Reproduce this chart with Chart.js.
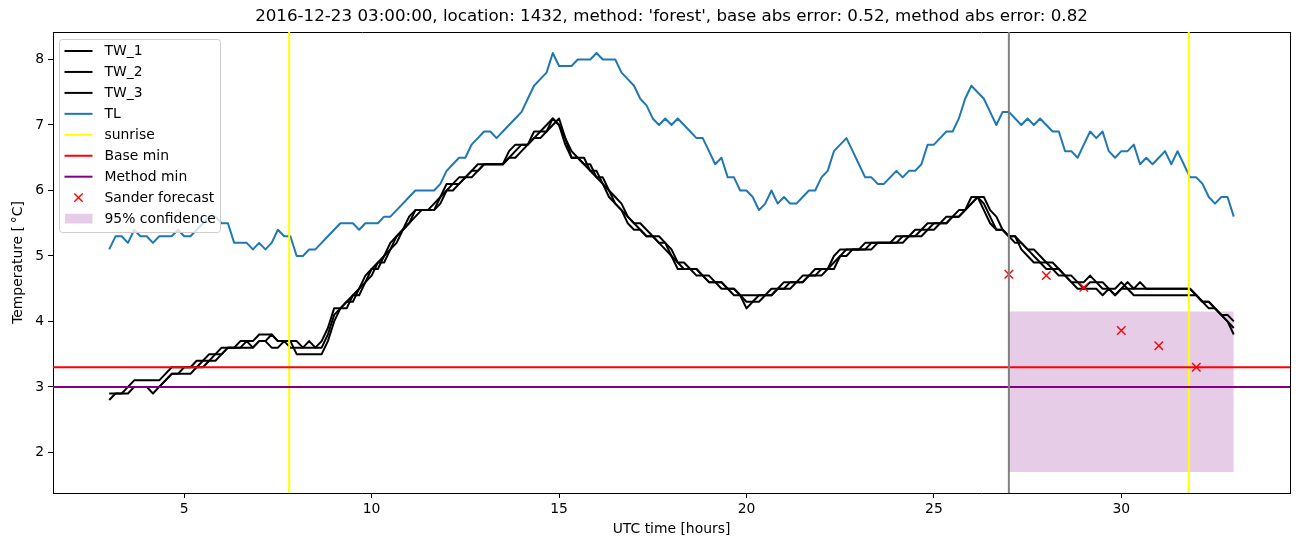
<!DOCTYPE html>
<html><head><meta charset="utf-8">
<script src="https://cdn.jsdelivr.net/npm/chart.js@4.4.1/dist/chart.umd.min.js"></script>
<style>html,body{margin:0;padding:0;background:#fff}#wrap{width:1302px;height:547px}</style>
</head><body><div id="wrap"><canvas id="c" width="1302" height="547"></canvas></div>
<script>
// ---- data (10-minute samples from 03:00 to 33:00 UTC hours) ----
const startHour = 3;
const stepHours = 1 / 6;

const tw1 = [
3.0,3.0,3.0,3.0,3.1,3.1,3.1,3.1,3.1,3.2,
3.3,3.3,3.3,3.3,3.4,3.4,3.5,3.5,3.6,3.6,
3.6,3.7,3.7,3.7,3.8,3.8,3.8,3.7,3.7,3.7,
3.7,3.6,3.7,3.6,3.7,3.9,4.2,4.2,4.3,4.4,
4.5,4.7,4.8,4.9,5.0,5.2,5.3,5.4,5.6,5.7,
5.7,5.7,5.8,5.9,6.1,6.1,6.2,6.2,6.3,6.4,
6.4,6.4,6.4,6.4,6.6,6.7,6.7,6.7,6.9,6.9,
7.0,7.1,7.0,6.7,6.5,6.5,6.4,6.3,6.2,6.1,
5.9,5.8,5.7,5.5,5.4,5.4,5.3,5.3,5.2,5.1,
5.0,4.8,4.8,4.8,4.7,4.7,4.6,4.6,4.5,4.5,
4.4,4.4,4.4,4.4,4.4,4.4,4.5,4.5,4.6,4.6,
4.6,4.7,4.7,4.8,4.8,4.8,5.0,5.1,5.1,5.1,
5.1,5.2,5.2,5.2,5.2,5.2,5.3,5.3,5.3,5.4,
5.4,5.5,5.5,5.5,5.6,5.6,5.7,5.7,5.9,5.9,
5.7,5.5,5.4,5.4,5.3,5.3,5.1,5.0,4.9,4.9,
4.8,4.8,4.8,4.7,4.6,4.6,4.6,4.7,4.6,4.6,
4.5,4.5,4.6,4.5,4.5,4.5,4.5,4.5,4.5,4.5,
4.5,4.5,4.5,4.5,4.4,4.3,4.2,4.2,4.1,4.1,4.0];

const tw2 = [
2.9,2.9,2.9,3.0,3.0,3.0,3.0,2.9,3.0,3.1,
3.2,3.2,3.2,3.2,3.3,3.3,3.4,3.4,3.5,3.6,
3.6,3.6,3.6,3.6,3.7,3.7,3.6,3.6,3.7,3.6,
3.6,3.6,3.6,3.6,3.6,3.8,4.1,4.2,4.3,4.3,
4.5,4.6,4.8,4.8,5.0,5.1,5.3,5.4,5.5,5.7,
5.7,5.7,5.7,5.9,6.0,6.1,6.1,6.2,6.3,6.3,
6.4,6.4,6.4,6.4,6.5,6.6,6.7,6.7,6.8,6.9,
6.9,7.1,7.0,6.8,6.5,6.5,6.5,6.3,6.3,6.1,
6.0,5.8,5.7,5.6,5.5,5.4,5.3,5.3,5.3,5.2,
5.0,4.9,4.8,4.8,4.8,4.7,4.7,4.6,4.6,4.5,
4.5,4.4,4.2,4.3,4.3,4.4,4.4,4.5,4.5,4.6,
4.6,4.6,4.7,4.7,4.8,4.8,4.9,5.0,5.1,5.1,
5.1,5.1,5.2,5.2,5.2,5.2,5.2,5.3,5.3,5.3,
5.4,5.4,5.5,5.5,5.5,5.6,5.6,5.7,5.8,5.9,
5.8,5.6,5.4,5.4,5.3,5.2,5.2,5.1,5.0,4.9,
4.9,4.8,4.7,4.7,4.6,4.5,4.5,4.6,4.6,4.5,
4.5,4.4,4.5,4.5,4.4,4.4,4.4,4.4,4.4,4.4,
4.4,4.4,4.4,4.4,4.4,4.3,4.3,4.2,4.1,4.0,3.9];

const tw3 = [
2.8,2.9,2.9,2.9,3.0,3.0,3.0,3.0,3.0,3.1,
3.2,3.2,3.3,3.3,3.3,3.4,3.4,3.5,3.5,3.6,
3.6,3.6,3.7,3.6,3.7,3.7,3.8,3.7,3.7,3.7,
3.5,3.5,3.5,3.5,3.5,3.7,4.0,4.2,4.2,4.4,
4.4,4.6,4.7,4.9,4.9,5.1,5.2,5.4,5.5,5.6,
5.7,5.7,5.7,5.8,6.0,6.0,6.1,6.2,6.2,6.3,
6.4,6.4,6.4,6.4,6.5,6.5,6.6,6.7,6.8,6.8,
6.9,7.0,7.1,6.8,6.6,6.5,6.4,6.4,6.2,6.2,
6.0,5.9,5.8,5.6,5.5,5.5,5.4,5.3,5.2,5.2,
5.1,4.9,4.9,4.8,4.8,4.7,4.6,4.6,4.6,4.5,
4.5,4.4,4.3,4.3,4.4,4.4,4.4,4.5,4.5,4.5,
4.6,4.6,4.7,4.7,4.7,4.8,4.8,5.0,5.0,5.1,
5.1,5.1,5.1,5.2,5.2,5.2,5.2,5.2,5.3,5.3,
5.3,5.4,5.4,5.5,5.5,5.6,5.6,5.7,5.8,5.9,
5.9,5.7,5.6,5.4,5.3,5.3,5.2,5.1,5.1,5.0,
4.9,4.9,4.8,4.7,4.7,4.6,4.5,4.5,4.5,4.4,
4.5,4.4,4.5,4.6,4.5,4.6,4.5,4.5,4.5,4.5,
4.5,4.5,4.5,4.5,4.4,4.3,4.3,4.2,4.1,4.0,3.8];

const tl = [
5.1,5.3,5.3,5.2,5.4,5.3,5.3,5.2,5.3,5.3,
5.3,5.4,5.3,5.3,5.4,5.5,5.6,5.6,5.5,5.5,
5.2,5.2,5.2,5.1,5.2,5.1,5.2,5.4,5.3,5.3,
5.0,5.0,5.1,5.1,5.2,5.3,5.4,5.5,5.5,5.5,
5.4,5.5,5.5,5.5,5.6,5.6,5.7,5.8,5.9,6.0,
6.0,6.0,6.0,6.1,6.3,6.4,6.5,6.5,6.7,6.8,
6.9,6.9,6.8,6.9,7.0,7.1,7.2,7.4,7.6,7.7,
7.8,8.1,7.9,7.9,7.9,8.0,8.0,8.0,8.1,8.0,
8.0,8.0,7.8,7.7,7.6,7.4,7.3,7.1,7.0,7.1,
7.0,7.1,7.0,6.9,6.8,6.8,6.6,6.4,6.5,6.2,
6.2,6.0,6.0,5.9,5.7,5.8,6.0,5.8,5.9,5.8,
5.8,5.9,6.0,6.0,6.2,6.3,6.6,6.7,6.8,6.6,
6.4,6.2,6.2,6.1,6.1,6.2,6.3,6.2,6.3,6.3,
6.4,6.7,6.7,6.8,6.9,6.9,7.1,7.4,7.6,7.5,
7.4,7.2,7.0,7.2,7.2,7.1,7.0,7.1,7.0,7.1,
7.0,6.9,6.9,6.6,6.6,6.5,6.7,6.9,6.8,6.9,
6.6,6.5,6.6,6.6,6.7,6.4,6.5,6.4,6.5,6.6,
6.4,6.6,6.4,6.2,6.2,6.1,5.9,5.8,5.9,5.9,5.6];

const sunriseHours = [7.8, 31.8];
const forecastStartHour = 27.0;
const baseMin = 3.3;
const methodMin = 3.0;
const sanderHours = [27, 28, 29, 30, 31, 32];
const sanderTemps = [4.72, 4.70, 4.52, 3.86, 3.63, 3.30];
const confHours = [27, 33];
const confLow = 1.7;
const confHigh = 4.15;

const xTickValues = [5, 10, 15, 20, 25, 30];
const yTickValues = [2, 3, 4, 5, 6, 7, 8];
const X_MIN = 1.5, X_MAX = 34.5, Y_MIN = 1.38, Y_MAX = 8.42;

const titleText = "2016-12-23 03:00:00, location: 1432, method: 'forest', base abs error: 0.52, method abs error: 0.82";

// ---- build datasets ----
const hours = tl.map((_, i) => startHour + i * stepHours);
const toXY = arr => arr.map((v, i) => ({x: hours[i], y: v}));
const FONT = 'DejaVu Sans';

const lineDefaults = {pointRadius: 0, borderWidth: 2, tension: 0, fill: false,
  borderJoinStyle: 'round', borderCapStyle: 'butt', parsing: true};

const sunrisePts = [];
sunriseHours.forEach((h, k) => {
  if (k > 0) sunrisePts.push({x: (sunriseHours[k-1] + h) / 2, y: null});
  sunrisePts.push({x: h, y: Y_MIN}, {x: h, y: Y_MAX});
});

const datasets = [
  {label: 'TW_1', data: toXY(tw1), borderColor: '#000000', order: 20, legend: 'line', ...lineDefaults},
  {label: 'TW_2', data: toXY(tw2), borderColor: '#000000', order: 19, legend: 'line', ...lineDefaults},
  {label: 'TW_3', data: toXY(tw3), borderColor: '#000000', order: 18, legend: 'line', ...lineDefaults},
  {label: 'TL', data: toXY(tl), borderColor: '#1f77b4', order: 17, legend: 'line', ...lineDefaults},
  {label: 'sunrise', data: sunrisePts, borderColor: '#ffff00', order: 16, legend: 'line', spanGaps: false, ...lineDefaults},
  {label: 'Base min', data: [{x: X_MIN, y: baseMin}, {x: X_MAX, y: baseMin}], borderColor: '#ff0000', order: 15, legend: 'line', ...lineDefaults},
  {label: 'Method min', data: [{x: X_MIN, y: methodMin}, {x: X_MAX, y: methodMin}], borderColor: '#800080', order: 14, legend: 'line', ...lineDefaults},
  {label: 'Sander forecast', data: sanderHours.map((h, i) => ({x: h, y: sanderTemps[i]})),
    showLine: false, pointStyle: 'crossRot', pointRadius: 6, pointBorderColor: '#ff0000',
    pointBackgroundColor: '#ff0000', pointBorderWidth: 1.4, borderColor: '#ff0000', order: 13, legend: 'marker'},
  {label: '95% confidence', data: confHours.map(h => ({x: h, y: confHigh})),
    borderWidth: 0, pointRadius: 0, borderColor: 'rgba(0,0,0,0)',
    backgroundColor: 'rgba(128,0,128,0.2)', fill: {value: confLow}, order: 30, legend: 'patch', tension: 0},
  {label: '_forecast_start', data: [{x: forecastStartHour, y: Y_MIN}, {x: forecastStartHour, y: Y_MAX}],
    borderColor: '#808080', order: 12, ...lineDefaults}
];

const legendPlugin = {
  id: 'mplLegend',
  afterDraw(chart) {
    const c = chart.ctx;
    c.save();
    const x0 = 59.5, y0 = 39.5, w = 161, h = 193;
    c.beginPath();
    c.roundRect(x0, y0, w, h, 3);
    c.fillStyle = 'rgba(255,255,255,0.8)';
    c.fill();
    c.strokeStyle = '#cccccc';
    c.lineWidth = 1;
    c.stroke();
    const items = chart.data.datasets.filter(d => d.legend);
    const order = ['TW_1','TW_2','TW_3','TL','sunrise','Base min','Method min','Sander forecast','95% confidence'];
    items.sort((a, b) => order.indexOf(a.label) - order.indexOf(b.label));
    c.font = '13.9px "' + FONT + '"';
    c.textBaseline = 'middle';
    c.textAlign = 'left';
    items.forEach((d, k) => {
      const yc = 51 + k * 20.95;
      if (d.legend === 'line') {
        c.beginPath();
        c.moveTo(64.5, yc); c.lineTo(92.5, yc);
        c.strokeStyle = d.borderColor; c.lineWidth = 2; c.stroke();
      } else if (d.legend === 'marker') {
        const r = 4.2;
        c.beginPath();
        c.moveTo(78.5 - r, yc - r); c.lineTo(78.5 + r, yc + r);
        c.moveTo(78.5 + r, yc - r); c.lineTo(78.5 - r, yc + r);
        c.strokeStyle = d.pointBorderColor; c.lineWidth = 1.4; c.stroke();
      } else if (d.legend === 'patch') {
        c.fillStyle = d.backgroundColor;
        c.fillRect(65, yc - 4.8, 27.5, 9.7);
      }
      c.fillStyle = '#000';
      c.fillText(d.label, 104.5, yc + 0.5);
    });
    c.restore();
  }
};

const tickFont = {family: FONT, size: 13.9};

new Chart(document.getElementById('c').getContext('2d'), {
  type: 'line',
  data: {datasets},
  plugins: [legendPlugin],
  options: {
    responsive: false, animation: false, devicePixelRatio: 1,
    layout: {padding: 0},
    plugins: {legend: {display: false}, tooltip: {enabled: false}, title: {display: false}},
    scales: {
      x: {
        type: 'linear', position: 'bottom', min: X_MIN, max: X_MAX,
        afterFit(s) { s.height = 54; },
        afterBuildTicks(s) { s.ticks = xTickValues.map(v => ({value: v})); },
        ticks: {color: '#000', font: tickFont, padding: 3, maxRotation: 0, autoSkip: false},
        grid: {display: true, drawOnChartArea: false, drawTicks: true, tickLength: 5, tickColor: '#000', tickWidth: 1},
        border: {display: true, color: '#000', width: 1},
        title: {display: true, text: 'UTC time [hours]', color: '#000', font: tickFont, padding: {top: 0, bottom: 9}}
      },
      x2: {
        type: 'linear', position: 'top', min: X_MIN, max: X_MAX,
        afterFit(s) { s.height = 32; },
        ticks: {display: false},
        grid: {display: true, drawOnChartArea: false, drawTicks: false},
        border: {display: true, color: '#000', width: 1},
        title: {display: true, text: titleText, color: '#000', font: {family: FONT, size: 16.7}, padding: {top: 7, bottom: 0}}
      },
      y: {
        type: 'linear', position: 'left', min: Y_MIN, max: Y_MAX,
        afterFit(s) { s.width = 53; },
        afterBuildTicks(s) { s.ticks = yTickValues.map(v => ({value: v})); },
        ticks: {color: '#000', font: tickFont, padding: 4},
        grid: {display: true, drawOnChartArea: false, drawTicks: true, tickLength: 5, tickColor: '#000', tickWidth: 1},
        border: {display: true, color: '#000', width: 1},
        title: {display: true, text: 'Temperature [\u2009\u00b0C]', color: '#000', font: tickFont, padding: {top: 10, bottom: 0}}
      },
      y2: {
        type: 'linear', position: 'right', min: Y_MIN, max: Y_MAX,
        afterFit(s) { s.width = 12; },
        ticks: {display: false},
        grid: {display: true, drawOnChartArea: false, drawTicks: false},
        border: {display: true, color: '#000', width: 1}
      }
    }
  }
});
</script></body></html>
